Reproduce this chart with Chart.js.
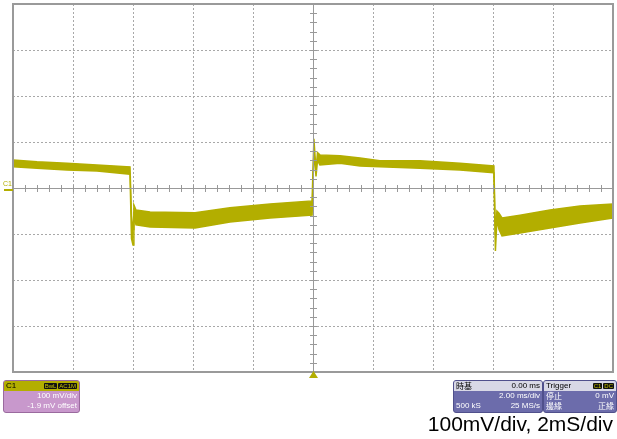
<!DOCTYPE html>
<html lang="zh-Hant">
<head>
<meta charset="UTF-8">
<title>Scope capture</title>
<script src="https://cdn.jsdelivr.net/npm/chart.js"></script>
<style>
  html, body { margin: 0; padding: 0; background: #fff; }
  #wrap { position: relative; width: 617px; height: 439px; overflow: hidden; font-family: "Liberation Sans", Arial, sans-serif; }
  #wrap canvas { position: absolute; left: 0; top: 0; }
  .box { position: absolute; top: 380px; height: 31px; border-radius: 3px; overflow: hidden; font-size: 8px; line-height: 10px; }
  .hd { height: 10px; padding: 0 2px; display: flex; justify-content: space-between; align-items: center; }
  .row { height: 10px; padding: 0 2px; display: flex; justify-content: space-between; color: #fff; }
  .badge { background: #111; color: #c8c400; font-size: 6px; line-height: 7px; padding: 0 1px; border-radius: 1px; margin-left: 1px; }
  .cjk { font-family: "Noto Sans CJK TC", sans-serif; }
  #c1 { left: 3px; width: 75px; background: #c898cc; border: 1px solid #9a6a9e; }
  #c1 .hd { background: #b3ae00; color: #000; }
  #tb { left: 453px; width: 88px; background: #6c6cab; border: 1px solid #50508c; }
  #tb .hd, #tr .hd { background: #d8d8e6; color: #000; }
  #tr { left: 543px; width: 72px; background: #6c6cab; border: 1px solid #50508c; }
  #note { position: absolute; right: 4px; top: 412px; font-size: 21px; color: #000; }
</style>
</head>
<body>
<div id="wrap">
  <canvas id="scope"></canvas>
  <div class="box" id="c1">
    <div class="hd"><span>C1</span><span><span class="badge">BwL</span><span class="badge">AC1M</span></span></div>
    <div class="row"><span></span><span>100 mV/div</span></div>
    <div class="row"><span></span><span>-1.9 mV offset</span></div>
  </div>
  <div class="box" id="tb">
    <div class="hd"><span class="cjk">時基</span><span>0.00 ms</span></div>
    <div class="row"><span></span><span>2.00 ms/div</span></div>
    <div class="row"><span>500 kS</span><span>25 MS/s</span></div>
  </div>
  <div class="box" id="tr">
    <div class="hd"><span>Trigger</span><span><span class="badge">C1</span><span class="badge">DC</span></span></div>
    <div class="row"><span class="cjk">停止</span><span>0 mV</span></div>
    <div class="row"><span class="cjk">邊緣</span><span class="cjk">正緣</span></div>
  </div>
  <div id="note">100mV/div, 2mS/div</div>
</div>

<script>
// time in ms, envelope of the noisy trace in mV
const timeMs = [-10, -9.2, -8.2, -7.2, -6.1, -6.05, -6.0, -5.97, -5.9, -5.43, -3.93, -2.77, -1.43, -0.03,
                0.03, 0.1, 0.15, 0.23, 0.9, 1.57, 2.23, 3.57, 4.9, 6.03,
                6.08, 6.13, 6.2, 6.3, 6.9, 7.9, 8.9, 10];
const upperMv = [61, 57, 54, 50, 46, -60, -90, -37, -48, -52, -54, -43, -35, -28,
                 107, 39, 77, 72, 70, 65, 59, 59, 54, 48,
                 -100, -50, -55, -65, -59, -48, -39, -35];
const lowerMv = [46, 43, 39, 37, 30, -110, -124, -60, -80, -85, -87, -74, -65, -59,
                 80, 25, 60, 50, 54, 48, 46, 43, 39, 33,
                 -137, -70, -90, -104, -98, -87, -76, -65];

const xTicks = { min: -10, max: 10, step: 2 };
const yTicks = { min: -400, max: 400, step: 100 };
const traceColor = '#b3ae00';

// frame, centre axes with minor ticks, channel and trigger markers
const scopeDecor = {
  id: 'scopeDecor',
  afterDraw(chart) {
    const { ctx, chartArea: a, scales: { x, y } } = chart;
    const cx = x.getPixelForValue(0), cy = y.getPixelForValue(0);
    ctx.save();
    ctx.strokeStyle = '#999';
    ctx.lineWidth = 1;
    ctx.beginPath();
    ctx.moveTo(a.left, cy + 0.5); ctx.lineTo(a.right, cy + 0.5);
    ctx.moveTo(cx + 0.5, a.top); ctx.lineTo(cx + 0.5, a.bottom);
    for (let t = xTicks.min; t <= xTicks.max; t += 0.4) {
      const px = Math.round(x.getPixelForValue(t)) + 0.5;
      ctx.moveTo(px, cy - 3); ctx.lineTo(px, cy + 4);
    }
    for (let v = yTicks.min; v <= yTicks.max; v += 20) {
      const py = Math.round(y.getPixelForValue(v)) + 0.5;
      ctx.moveTo(cx - 3, py); ctx.lineTo(cx + 4, py);
    }
    ctx.stroke();
    ctx.lineWidth = 2;
    ctx.strokeStyle = '#9a9a9a';
    ctx.strokeRect(a.left, a.top, a.right - a.left, a.bottom - a.top);
    // C1 marker
    ctx.fillStyle = traceColor;
    ctx.font = '7px "Liberation Sans", Arial';
    ctx.fillText('C1', 3, cy - 2);
    ctx.fillRect(4, cy + 1, a.left - 4, 2);
    // trigger marker
    ctx.beginPath();
    ctx.moveTo(cx - 4, a.bottom + 6); ctx.lineTo(cx + 5, a.bottom + 6); ctx.lineTo(cx + 0.5, a.bottom - 1);
    ctx.closePath();
    ctx.fill();
    ctx.restore();
  }
};

new Chart(document.getElementById('scope'), {
  type: 'line',
  data: {
    datasets: [
      {
        data: timeMs.map((t, i) => ({ x: t, y: upperMv[i] })),
        borderColor: traceColor, backgroundColor: traceColor,
        borderWidth: 1.5, pointRadius: 0, fill: '+1', tension: 0
      },
      {
        data: timeMs.map((t, i) => ({ x: t, y: lowerMv[i] })),
        borderColor: traceColor, backgroundColor: traceColor,
        borderWidth: 1.5, pointRadius: 0, fill: false, tension: 0
      }
    ]
  },
  options: {
    responsive: true,
    maintainAspectRatio: false,
    animation: false,
    layout: { padding: { left: 13, right: 4, top: 4, bottom: 67 } },
    plugins: { legend: { display: false }, tooltip: { enabled: false } },
    scales: {
      x: {
        type: 'linear', min: xTicks.min, max: xTicks.max,
        ticks: { stepSize: xTicks.step, display: false },
        grid: { color: '#a8a8a8', drawTicks: false },
        border: { display: false, dash: [2, 2] }
      },
      y: {
        min: yTicks.min, max: yTicks.max,
        ticks: { stepSize: yTicks.step, display: false },
        grid: { color: '#a8a8a8', drawTicks: false },
        border: { display: false, dash: [2, 2] }
      }
    }
  },
  plugins: [scopeDecor]
});
</script>
</body>
</html>
